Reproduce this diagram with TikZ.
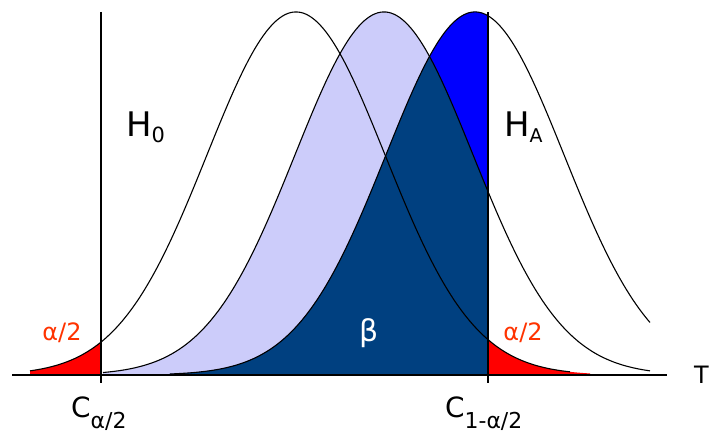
\documentclass[tikz,border=0pt]{standalone}
\usepackage{fontspec}
\setmainfont{DejaVu Sans}
\definecolor{lightb}{RGB}{204,204,250}
\definecolor{navyb}{RGB}{0,64,128}
\definecolor{brightb}{RGB}{0,0,255}
\definecolor{redfill}{RGB}{255,0,0}
\definecolor{redtext}{RGB}{255,51,0}
\begin{document}
\begin{tikzpicture}[x=1bp,y=-1bp,
  declare function={g(\x,\m)=375-363*exp(-0.5*((\x-\m)/89)^2);},
  curve/.style={line width=1.1bp, black},
  vline/.style={line width=1.6bp, black},
  lab/.style={inner sep=0pt, anchor=base west, text=black},
  redlab/.style={inner sep=0pt, text=redtext, font=\fontsize{24}{24}\selectfont},
]
\useasboundingbox (0,0) rectangle (711,433);
% fills
\fill[lightb] (103,375) -- plot[domain=103:488, samples=120] (\x,{g(\x,384)}) -- (488,375) -- cycle;
\fill[brightb] (150,375) -- plot[domain=150:488, samples=120] (\x,{g(\x,475)}) -- (488,375) -- cycle;
\fill[navyb] (150,375) -- plot[domain=150:488, samples=150] (\x,{max(g(\x,384),g(\x,475))}) -- (488,375) -- cycle;
\fill[redfill] (30,375) -- plot[domain=30:101, samples=40] (\x,{g(\x,296)}) -- (101,375) -- cycle;
\fill[redfill] (488,375) -- plot[domain=488:590, samples=50] (\x,{g(\x,296)}) -- (590,375) -- cycle;
% curves
\draw[curve] plot[domain=30:570, samples=200] (\x,{g(\x,296)});
\draw[curve] plot[domain=103:650, samples=200] (\x,{g(\x,384)});
\draw[curve] plot[domain=170:650, samples=200] (\x,{g(\x,475)});
% axis and critical lines
\coordinate (axL) at (12,375);
\coordinate (axR) at (667,375);
\coordinate (c1t) at (101,12);
\coordinate (c1b) at (101,383);
\coordinate (c2t) at (488,12);
\coordinate (c2b) at (488,383);
\draw[line width=2bp] (axL) -- (axR);
\draw[vline] (c1t) -- (c1b);
\draw[vline] (c2t) -- (c2b);
% labels
\node[lab, font=\fontsize{34}{34}\selectfont] (h0) at (126,137) {H\raisebox{-6bp}{\fontsize{21}{21}\selectfont 0}};
\node[lab, font=\fontsize{34}{34}\selectfont] (ha) at (504,137) {H\raisebox{-6bp}{\fontsize{19}{19}\selectfont A}};
\node[redlab] (a1) at (62,333) {α/2};
\node[redlab] (a2) at (523,333) {α/2};
\node[inner sep=0pt, text=white, font=\fontsize{30}{30}\selectfont] (beta) at (369,333) {β};
\node[lab, font=\fontsize{28}{28}\selectfont] (cl) at (71,417) {C\raisebox{-11bp}{\fontsize{22}{22}\selectfont α/2}};
\node[lab, font=\fontsize{28}{28}\selectfont] (cr) at (445,417) {C\raisebox{-11bp}{\fontsize{22}{22}\selectfont 1-α/2}};
\node[inner sep=0pt, anchor=base west, font=\fontsize{24}{24}\selectfont] (t) at (694,383) {T};
\end{tikzpicture}
\end{document}
